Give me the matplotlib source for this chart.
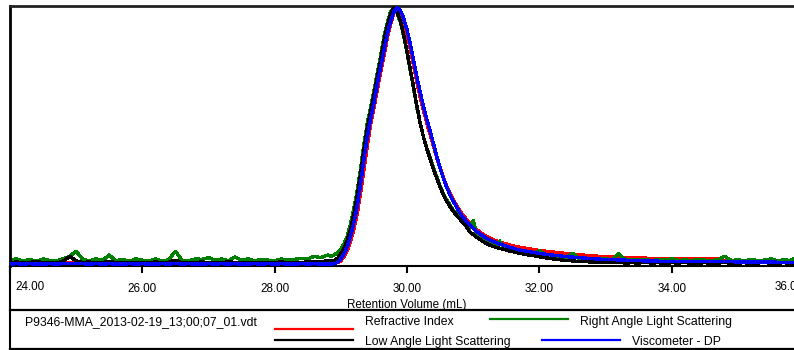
import numpy as np
import matplotlib
matplotlib.use("Agg")
import matplotlib.pyplot as plt
from matplotlib.lines import Line2D

plt.rcParams['font.family'] = ['Liberation Sans', 'DejaVu Sans']

# retention volume sample positions (mL): baseline, peak, tail
vol = np.concatenate([np.linspace(24.0, 28.8, 49),
                      np.linspace(28.85, 31.6, 56),
                      np.linspace(31.7, 36.0, 44)])

# Refractive Index
ri = [0.002,0.003,0.002,0.002,0.003,0.002,0.002,0.003,0.004,0.006,0.008,0.003,0.002,0.002,0.003,0.002,0.002,0.003,0.002,0.002,
      0.002,0.003,0.002,0.002,0.003,0.002,0.002,0.003,0.002,0.002,0.002,0.003,0.002,0.002,0.003,0.002,0.002,0.003,0.002,0.002,
      0.002,0.003,0.002,0.002,0.003,0.002,0.002,0.003,0.002,
      0.002,0.003,0.005,0.012,0.03,0.055,0.09,0.14,0.20,0.28,
      0.37,0.46,0.545,0.61,0.68,0.745,0.81,0.88,0.935,0.98,
      1.0,0.985,0.95,0.9,0.84,0.775,0.71,0.65,0.6,0.55,
      0.505,0.46,0.415,0.375,0.337,0.303,0.275,0.25,0.228,0.208,
      0.19,0.174,0.16,0.147,0.135,0.125,0.116,0.108,0.101,0.095,
      0.09,0.086,0.082,0.079,0.075,0.071,
      0.066,0.061,0.057,0.053,0.05,0.047,0.044,0.041,0.038,0.036,
      0.034,0.032,0.03,0.029,0.028,0.027,0.026,0.025,0.024,0.023,
      0.022,0.022,0.022,0.021,0.021,0.021,0.02,0.02,0.02,0.02,
      0.019,0.014,0.012,0.012,0.011,0.011,0.011,0.01,0.01,0.01,
      0.01,0.009,0.009,0.009]

# Right Angle Light Scattering
rals = [0.015,0.02,0.012,0.018,0.01,0.02,0.014,0.012,0.02,0.03,0.05,0.018,0.012,0.02,0.015,0.035,0.012,0.018,0.01,0.02,
        0.015,0.012,0.02,0.01,0.018,0.05,0.015,0.012,0.02,0.018,0.025,0.015,0.02,0.012,0.028,0.015,0.02,0.012,0.018,0.015,
        0.012,0.02,0.015,0.018,0.022,0.02,0.03,0.025,0.035,
        0.03,0.035,0.045,0.058,0.08,0.11,0.16,0.22,0.29,0.375,
        0.47,0.55,0.61,0.675,0.745,0.81,0.885,0.94,0.985,1.0,
        0.98,0.945,0.89,0.825,0.755,0.685,0.61,0.548,0.495,0.452,
        0.413,0.375,0.34,0.305,0.275,0.25,0.23,0.21,0.195,0.18,
        0.165,0.15,0.138,0.17,0.118,0.108,0.099,0.091,0.084,0.078,
        0.073,0.09,0.066,0.062,0.058,0.055,
        0.05,0.045,0.04,0.052,0.033,0.03,0.027,0.025,0.042,0.022,
        0.02,0.019,0.018,0.02,0.017,0.04,0.016,0.018,0.015,0.017,
        0.014,0.016,0.015,0.02,0.014,0.016,0.013,0.018,0.015,0.014,
        0.016,0.03,0.014,0.016,0.013,0.017,0.014,0.015,0.02,0.013,
        0.016,0.014,0.03,0.015]

# Low Angle Light Scattering
lals = [0.005,0.008,0.004,0.006,0.01,0.005,0.007,0.004,0.01,0.03,0.012,0.006,0.008,0.004,0.006,0.01,0.005,0.004,0.007,0.005,
        0.006,0.004,0.008,0.005,0.007,0.015,0.004,0.006,0.005,0.008,0.005,0.007,0.004,0.009,0.006,0.005,0.007,0.004,0.006,0.005,
        0.006,0.008,0.005,0.007,0.006,0.008,0.01,0.01,0.012,
        0.012,0.014,0.022,0.04,0.062,0.095,0.14,0.20,0.27,0.355,
        0.45,0.53,0.595,0.66,0.73,0.795,0.87,0.93,0.975,1.0,
        0.985,0.95,0.895,0.83,0.76,0.69,0.615,0.55,0.495,0.45,
        0.41,0.37,0.335,0.30,0.27,0.245,0.225,0.205,0.19,0.175,
        0.16,0.145,0.125,0.115,0.105,0.096,0.088,0.08,0.074,0.069,
        0.065,0.061,0.058,0.055,0.051,0.048,
        0.042,0.037,0.033,0.028,0.024,0.02,0.017,0.014,0.012,0.01,
        0.009,0.008,0.007,0.006,0.005,0.006,0.004,0.005,0.004,0.006,
        0.004,0.005,0.003,0.005,0.004,0.006,0.003,0.004,0.005,0.003,
        0.004,0.006,0.003,0.004,0.005,0.003,0.004,0.006,0.003,0.004,
        0.005,0.003,0.004,0.004]

# Viscometer - DP
dp = [0.0,0.001,0.0,0.001,0.0,0.0,0.001,0.0,0.001,0.002,0.003,0.001,0.0,0.001,0.0,0.001,0.0,0.0,0.001,0.0,
      0.001,0.0,0.0,0.001,0.0,0.002,0.0,0.001,0.0,0.0,0.001,0.0,0.001,0.0,0.001,0.0,0.0,0.001,0.0,0.001,
      0.0,0.001,0.0,0.0,0.001,0.0,0.001,0.0,0.0,
      0.0,0.001,0.006,0.02,0.04,0.07,0.11,0.165,0.23,0.315,
      0.41,0.495,0.565,0.63,0.70,0.765,0.83,0.895,0.945,0.985,
      1.0,0.99,0.96,0.915,0.86,0.795,0.73,0.67,0.615,0.565,
      0.52,0.47,0.42,0.375,0.335,0.3,0.27,0.245,0.222,0.2,
      0.182,0.166,0.152,0.14,0.128,0.118,0.109,0.101,0.094,0.088,
      0.083,0.078,0.074,0.07,0.066,0.062,
      0.055,0.05,0.046,0.042,0.038,0.035,0.032,0.029,0.027,0.025,
      0.023,0.021,0.019,0.018,0.017,0.016,0.015,0.014,0.013,0.012,
      0.012,0.011,0.011,0.011,0.01,0.01,0.01,0.01,0.01,0.009,
      0.009,0.009,0.009,0.008,0.008,0.008,0.008,0.008,0.008,0.007,
      0.007,0.007,0.007,0.007]

ticks = [24, 26, 28, 30, 32, 34]
file_name = "P9346-MMA_2013-02-19_13;00;07_01.vdt"

W, H = 794, 350
fig = plt.figure(figsize=(W / 100, H / 100), dpi=100)
ax = fig.add_axes([10 / W, 84 / H, 794 / W, 260 / H])

lw = 1.7
kw = dict(lw=lw, antialiased=False)
l_ri, = ax.plot(vol, ri, color='#ff0000', zorder=1, label='Refractive Index', **kw)
l_rals, = ax.plot(vol, rals, color='#008000', zorder=2, label='Right Angle Light Scattering', **kw)
l_lals, = ax.plot(vol, lals, color='#000000', zorder=3, label='Low Angle Light Scattering', **kw)
l_dp, = ax.plot(vol, dp, color='#0000ff', zorder=4, label='Viscometer - DP', **kw)

ax.set_xlim(24, 36)
ax.set_ylim(-2 / 256, 1 + 2 / 256)
ax.set_yticks([])
ax.set_xticks(ticks)
ax.set_xticklabels([''] + ['%.2f' % t for t in ticks[1:]])
ax.tick_params(axis='x', direction='out', length=5, width=1.5, labelsize=8.4, pad=7.5)
ax.spines['right'].set_visible(False)
ax.spines['top'].set_linewidth(2)
ax.spines['top'].set_color('#222222')
ax.spines['left'].set_linewidth(2)
ax.spines['bottom'].set_linewidth(1.5)
ax.set_xlabel('Retention Volume (mL)', fontsize=8.4, labelpad=2.5)

# end labels that sit inside the frame
ax.annotate('24.00', xy=(24, 0), xycoords=('data', 'axes fraction'), xytext=(5, -15),
            textcoords='offset pixels', ha='left', va='top', fontsize=8.4)
ax.annotate('36.00', xy=(36, 0), xycoords=('data', 'axes fraction'), xytext=(0, -15),
            textcoords='offset pixels', ha='right', va='top', fontsize=8.4)

# legend panel
def fy(py):
    return 1 - py / H

fig.add_artist(Line2D([10 / W, 1], [fy(310), fy(310)], color='black', lw=1.6))
fig.add_artist(Line2D([10 / W, 1], [fy(349), fy(349)], color='black', lw=1.6))
fig.add_artist(Line2D([10 / W, 10 / W], [fy(266), 0], color='black', lw=1.5))

fig.text(25 / W, fy(322), file_name, fontsize=8.8, va='center', ha='left')
rows = [(l_ri, 275, 329, 365, 322), (l_rals, 490, 319, 580, 322),
        (l_lals, 275, 340, 365, 342), (l_dp, 542, 340, 632, 342)]
for h, x0, ly, tx, ty in rows:
    fig.add_artist(Line2D([x0 / W, (x0 + 78) / W], [fy(ly), fy(ly)], color=h.get_color(), lw=1.6))
    fig.text(tx / W, fy(ty), h.get_label(), fontsize=8.8, va='center', ha='left')

fig.savefig('out.png', dpi=100)
